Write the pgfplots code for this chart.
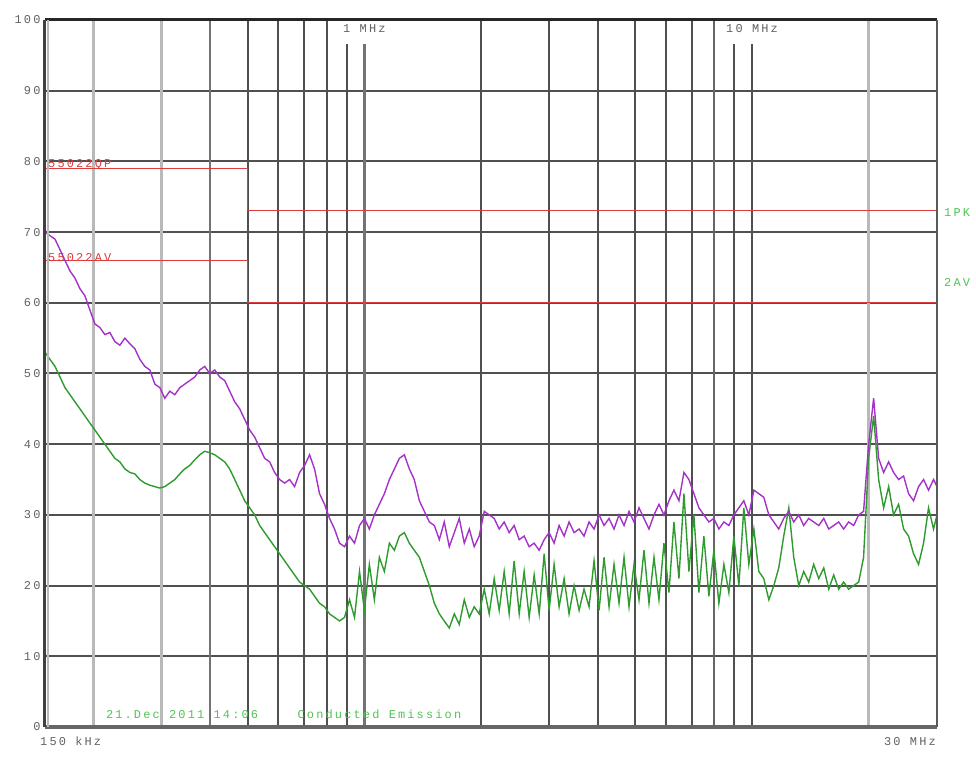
\documentclass[border=0pt]{standalone}
\usepackage{fontspec}
\setmonofont{Liberation Mono}
\newfontfamily\espi[LetterSpace=18]{Liberation Mono}
\usepackage{pgfplots}
\usepackage{pgfplotstable}
\pgfplotsset{compat=1.18}

\definecolor{pk}{RGB}{165,50,200}
\definecolor{av}{RGB}{45,155,45}
\definecolor{lim}{RGB}{220,60,60}
\definecolor{lbl}{RGB}{80,195,80}
\definecolor{gridlt}{RGB}{185,185,185}
\definecolor{griddk}{RGB}{80,80,80}

% peak trace (MHz, dBuV)
\pgfplotstableread{
f dB
0.150 70.0
0.1545 69.5
0.1592 69.0
0.1640 67.5
0.1689 66.0
0.1740 64.5
0.1792 63.5
0.1846 62.0
0.1901 61.0
0.1958 59.0
0.2018 57.0
0.2078 56.5
0.2141 55.5
0.2205 55.8
0.2272 54.5
0.2340 54.0
0.2411 55.0
0.2483 54.2
0.2558 53.5
0.2635 52.0
0.2714 51.0
0.2796 50.5
0.2880 48.5
0.2967 48.0
0.3056 46.5
0.3148 47.5
0.3243 47.0
0.3341 48.0
0.3441 48.5
0.3545 49.0
0.3651 49.5
0.3761 50.5
0.3874 51.0
0.3991 50.0
0.4111 50.5
0.4235 49.5
0.4362 49.0
0.4493 47.5
0.4629 46.0
0.4768 45.0
0.4912 43.5
0.5060 42.0
0.5212 41.0
0.5369 39.5
0.5530 38.0
0.5697 37.5
0.5868 36.0
0.6045 35.0
0.6227 34.5
0.6414 35.0
0.6607 34.0
0.6806 36.0
0.7011 37.0
0.7222 38.5
0.7439 36.5
0.7663 33.0
0.7894 31.5
0.8131 29.5
0.8376 28.0
0.8628 26.0
0.8888 25.5
0.9155 27.0
0.9431 26.0
0.9715 28.5
1.000 29.5
1.030 28.0
1.061 30.0
1.093 31.5
1.126 33.0
1.160 35.0
1.195 36.5
1.231 38.0
1.268 38.5
1.306 36.5
1.345 35.0
1.386 32.0
1.428 30.5
1.471 29.0
1.515 28.5
1.561 26.5
1.607 29.0
1.656 25.5
1.706 27.5
1.757 29.5
1.810 26.0
1.865 28.0
1.920 25.5
1.978 27.0
2.038 30.5
2.099 30.0
2.162 29.5
2.227 28.0
2.294 29.0
2.363 27.5
2.434 28.5
2.508 26.5
2.583 27.0
2.661 25.5
2.741 26.0
2.824 25.0
2.909 26.5
2.996 27.5
3.086 26.0
3.179 28.5
3.275 27.0
3.373 29.0
3.475 27.5
3.580 28.0
3.687 27.0
3.798 29.0
3.913 28.0
4.031 30.0
4.152 28.5
4.277 29.5
4.405 28.0
4.538 30.0
4.675 28.5
4.816 30.5
4.960 29.0
5.110 31.0
5.263 29.5
5.422 28.0
5.585 30.0
5.753 31.5
5.926 30.0
6.105 32.0
6.288 33.5
6.478 32.0
6.673 36.0
6.874 35.0
7.080 33.0
7.294 31.0
7.513 30.0
7.739 29.0
7.972 29.5
8.212 28.0
8.459 29.0
8.714 28.5
8.976 30.0
9.247 31.0
9.524 32.0
9.811 30.0
10.11 33.5
10.41 33.0
10.72 32.5
11.05 30.0
11.38 29.0
11.72 28.0
12.07 29.5
12.44 30.5
12.81 29.0
13.20 30.0
13.59 28.5
14.00 29.5
14.42 29.0
14.86 28.5
15.31 29.5
15.77 28.0
16.24 28.5
16.73 29.0
17.23 28.0
17.75 29.0
18.29 28.5
18.84 30.0
19.40 30.5
19.99 40.0
20.59 46.5
21.21 38.0
21.85 36.0
22.51 37.5
23.18 36.0
23.88 35.0
24.60 35.5
25.34 33.0
26.10 32.0
26.89 34.0
27.70 35.0
28.53 33.5
29.39 35.0
30.0 34.0
}\peaktrace

% average trace (MHz, dBuV)
\pgfplotstableread{
f dB
0.150 53.0
0.1545 52.0
0.1592 51.0
0.1640 49.5
0.1689 48.0
0.1740 47.0
0.1792 46.0
0.1846 45.0
0.1901 44.0
0.1958 43.0
0.2018 42.0
0.2078 41.0
0.2141 40.0
0.2205 39.0
0.2272 38.0
0.2340 37.5
0.2411 36.5
0.2483 36.0
0.2558 35.8
0.2635 35.0
0.2714 34.5
0.2796 34.2
0.2880 34.0
0.2967 33.8
0.3056 34.0
0.3148 34.5
0.3243 35.0
0.3341 35.8
0.3441 36.5
0.3545 37.0
0.3651 37.8
0.3761 38.5
0.3874 39.0
0.3991 38.8
0.4111 38.5
0.4235 38.0
0.4362 37.5
0.4493 36.5
0.4629 35.0
0.4768 33.5
0.4912 32.0
0.5060 31.0
0.5212 30.0
0.5369 28.5
0.5530 27.5
0.5697 26.5
0.5868 25.5
0.6045 24.5
0.6227 23.5
0.6414 22.5
0.6607 21.5
0.6806 20.5
0.7011 20.0
0.7222 19.5
0.7439 18.5
0.7663 17.5
0.7894 17.0
0.8131 16.0
0.8376 15.5
0.8628 15.0
0.8888 15.5
0.9155 18.0
0.9431 15.5
0.9715 22.0
1.000 16.5
1.030 23.0
1.061 18.0
1.093 24.0
1.126 22.0
1.160 26.0
1.195 25.0
1.231 27.0
1.268 27.5
1.306 26.0
1.345 25.0
1.386 24.0
1.428 22.0
1.471 20.0
1.515 17.5
1.561 16.0
1.607 15.0
1.656 14.0
1.706 16.0
1.757 14.5
1.810 18.0
1.865 15.5
1.920 17.0
1.978 16.0
2.038 19.5
2.099 16.0
2.162 21.0
2.227 16.5
2.294 22.0
2.363 16.0
2.434 23.5
2.508 16.0
2.583 22.0
2.661 15.5
2.741 21.5
2.824 16.0
2.909 24.5
2.996 16.5
3.086 23.0
3.179 17.0
3.275 21.0
3.373 16.0
3.475 20.0
3.580 16.5
3.687 19.5
3.798 17.0
3.913 23.5
4.031 16.5
4.152 24.0
4.277 17.0
4.405 23.0
4.538 17.5
4.675 24.0
4.816 17.0
4.960 23.0
5.110 18.0
5.263 25.0
5.422 17.5
5.585 24.0
5.753 18.0
5.926 26.0
6.105 19.0
6.288 29.0
6.478 21.0
6.673 33.0
6.874 22.0
7.080 30.0
7.294 19.0
7.513 27.0
7.739 18.5
7.972 25.0
8.212 17.5
8.459 23.0
8.714 19.0
8.976 27.0
9.247 20.0
9.524 31.0
9.811 23.0
10.11 28.0
10.41 22.0
10.72 21.0
11.05 18.0
11.38 20.0
11.72 22.5
12.07 27.0
12.44 31.0
12.81 24.0
13.20 20.0
13.59 22.0
14.00 20.5
14.42 23.0
14.86 21.0
15.31 22.5
15.77 19.5
16.24 21.5
16.73 19.5
17.23 20.5
17.75 19.5
18.29 20.0
18.84 20.5
19.40 24.0
19.99 38.0
20.59 44.0
21.21 35.0
21.85 31.0
22.51 34.0
23.18 30.0
23.88 31.5
24.60 28.0
25.34 27.0
26.10 24.5
26.89 23.0
27.70 26.0
28.53 31.0
29.39 28.0
30.0 30.0
}\avgtrace

\begin{document}
\begin{tikzpicture}
\begin{axis}[
  at={(0,0)}, anchor=south west,
  scale only axis, width=892bp, height=707bp,
  xmode=log, xmin=0.15, xmax=30, ymin=0, ymax=100,
  xtick=\empty, ytick={0,10,...,100},
  major tick length=0pt,
  ymajorgrids, major grid style={griddk, line width=2bp},
  axis line style={draw=none},
  clip=false,
  /pgf/number format/assume math mode=true,
  yticklabel style={font=\espi\fontsize{12}{13}\selectfont, text=black!62, xshift=-1bp},
]
% vertical grid
\draw[gridlt, line width=2.5bp] (axis cs:0.2,0) -- (axis cs:0.2,100);
\draw[gridlt, line width=2.5bp] (axis cs:0.3,0) -- (axis cs:0.3,100);
\draw[black!55, line width=2.2bp] (axis cs:0.4,0) -- (axis cs:0.4,100);
\draw[griddk, line width=2bp] (axis cs:0.5,0) -- (axis cs:0.5,100);
\draw[griddk, line width=2bp] (axis cs:0.6,0) -- (axis cs:0.6,100);
\draw[griddk, line width=2bp] (axis cs:0.7,0) -- (axis cs:0.7,100);
\draw[griddk, line width=2bp] (axis cs:0.8,0) -- (axis cs:0.8,100);
\draw[griddk, line width=2bp] (axis cs:0.9,0) -- (axis cs:0.9,96.6);
\draw[black!55, line width=2.6bp] (axis cs:1,0) -- (axis cs:1,96.6);
\draw[griddk, line width=2bp] (axis cs:2,0) -- (axis cs:2,100);
\draw[griddk, line width=2bp] (axis cs:3,0) -- (axis cs:3,100);
\draw[griddk, line width=2bp] (axis cs:4,0) -- (axis cs:4,100);
\draw[griddk, line width=2bp] (axis cs:5,0) -- (axis cs:5,100);
\draw[griddk, line width=2bp] (axis cs:6,0) -- (axis cs:6,100);
\draw[griddk, line width=2bp] (axis cs:7,0) -- (axis cs:7,100);
\draw[black!60, line width=2bp] (axis cs:8,0) -- (axis cs:8,100);
\draw[griddk, line width=2bp] (axis cs:9,0) -- (axis cs:9,96.6);
\draw[griddk, line width=2.2bp] (axis cs:10,0) -- (axis cs:10,96.6);
\draw[gridlt, line width=3bp] (axis cs:20,0) -- (axis cs:20,100);

% limit lines
\addplot[lim, line width=1.2bp] coordinates {(0.15,79) (0.5,79) (0.5,73) (30,73)};
\addplot[lim, line width=1.2bp] coordinates {(0.15,66) (0.5,66) (0.5,60) (30,60)};

% traces
\addplot[av, line width=1.4bp] table[x=f, y=dB] {\avgtrace};
\addplot[pk, line width=1.4bp] table[x=f, y=dB] {\peaktrace};

% frame
\draw[black!85, line width=3bp] (rel axis cs:0,1) -- (rel axis cs:1,1);
\draw[black!60, line width=3bp] (rel axis cs:0,0) -- (rel axis cs:1,0);
\draw[black!65, line width=2.5bp] (rel axis cs:1,0) -- (rel axis cs:1,1);
\draw[gridlt, line width=2bp] ([xshift=3bp]rel axis cs:0,0) -- ([xshift=3bp]rel axis cs:0,1);
\draw[black!75, line width=3bp] (rel axis cs:0,0) -- (rel axis cs:0,1);

% texts
\tikzset{lab/.style={font=\espi\fontsize{12}{13}\selectfont, inner sep=1bp}}
\node[lab, text=black!62, anchor=north west] at ([xshift=-6bp, yshift=-9bp]axis cs:0.15,0) {150 kHz};
\node[lab, text=black!62, anchor=north east] at ([yshift=-9bp]axis cs:30,0) {30 MHz};
\node[lab, text=black!62, anchor=north, fill=white] at ([yshift=-3bp]axis cs:1,100) {1 MHz};
\node[lab, text=black!62, anchor=north, fill=white] at ([yshift=-3bp]axis cs:10,100) {10 MHz};
\node[lab, text=lim, anchor=south west] at ([xshift=2bp, yshift=-2bp]axis cs:0.15,79) {55022QP};
\node[lab, text=lim, anchor=south west] at ([xshift=2bp, yshift=-2bp]axis cs:0.15,66) {55022AV};
\node[lab, text=lbl, anchor=west] at ([xshift=6bp]axis cs:30,72.8) {1PK};
\node[lab, text=lbl, anchor=west] at ([xshift=6bp]axis cs:30,62.9) {2AV};
\node[lab, text=lbl, anchor=west] at (axis cs:0.214,1.8) {21.Dec 2011 14:06};
\node[lab, text=lbl, anchor=west] at (axis cs:0.668,1.8) {Conducted Emission};
\end{axis}
\pgfresetboundingbox
\path (-45bp,-31bp) rectangle (931bp,727bp);
\end{tikzpicture}
\end{document}
